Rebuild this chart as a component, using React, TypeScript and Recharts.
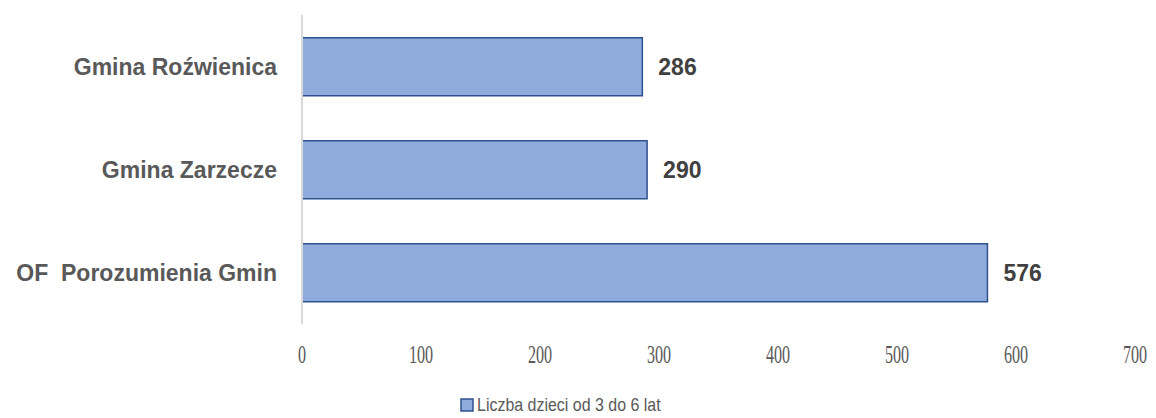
import { BarChart, Bar, XAxis, YAxis, Legend, LabelList } from 'recharts';

const categories = ['Gmina Roźwienica', 'Gmina Zarzecze', 'OF\u00a0\u00a0Porozumienia Gmin'];
const children = [286, 290, 576];
const xTicks = [0, 100, 200, 300, 400, 500, 600, 700];
const seriesName = 'Liczba dzieci od 3 do 6 lat';

const data = categories.map((name, i) => ({ name, value: children[i] }));

const FILL = '#8FAADC';
const STROKE = '#2F528F';
const SANS = 'Liberation Sans, Arial, sans-serif';

// narrow serif tick labels, like the original's condensed font
const XTick = (props: any) => {
  const { x, y, payload } = props;
  return (
    <text
      transform={`translate(${x},${y}) scale(0.62,1)`}
      x={0}
      y={0}
      dy={9}
      textAnchor="middle"
      fontSize={26}
      fill="#595959"
      fontFamily="Liberation Serif, DejaVu Serif, serif"
    >
      {payload.value}
    </text>
  );
};

const renderLegend = () => (
  <div style={{ display: 'flex', alignItems: 'center', paddingLeft: 460, marginTop: 6, fontFamily: SANS, fontSize: 19, color: '#595959' }}>
    <svg width={14} height={14} style={{ marginRight: 3 }}>
      <rect x={1} y={1} width={12} height={12} fill={FILL} stroke={STROKE} strokeWidth={1.5} />
    </svg>
    <span style={{ display: 'inline-block', transform: 'scaleX(0.84)', transformOrigin: 'left center', whiteSpace: 'nowrap' }}>{seriesName}</span>
  </div>
);

export default function App() {
  return (
    <div style={{ position: 'absolute', left: 0, top: 0, background: '#fff' }}>
      <BarChart
        width={1156}
        height={418}
        data={data}
        layout="vertical"
        barCategoryGap="22%"
        margin={{ top: 15, right: 21, left: 0, bottom: 0 }}
      >
        <XAxis
          type="number"
          domain={[0, 700]}
          ticks={xTicks}
          axisLine={false}
          tickLine={false}
          height={64}
          tickMargin={24}
          tick={<XTick />}
        />
        <YAxis
          type="category"
          dataKey="name"
          width={302}
          axisLine={{ stroke: '#D9D9D9', strokeWidth: 2 }}
          tickLine={false}
          tickMargin={19}
          tick={{ fontSize: 23, fontWeight: 700, fill: '#595959', fontFamily: SANS }}
        />
        <Legend verticalAlign="bottom" height={30} content={renderLegend} />
        <Bar dataKey="value" name={seriesName} fill={FILL} stroke={STROKE} strokeWidth={1.5} isAnimationActive={false}>
          <LabelList
            dataKey="value"
            position="right"
            offset={16}
            style={{ fontSize: 23, fontWeight: 700, fill: '#404040', fontFamily: SANS }}
          />
        </Bar>
      </BarChart>
    </div>
  );
}
